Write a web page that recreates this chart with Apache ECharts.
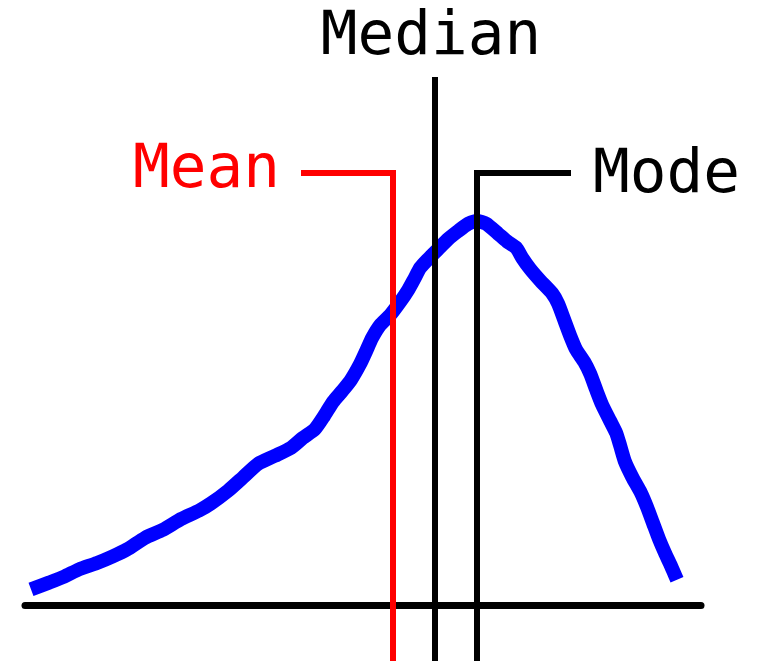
<!DOCTYPE html>
<html>
<head>
<meta charset="utf-8">
<title>Mean, Median, Mode</title>
<script src="https://cdn.jsdelivr.net/npm/echarts@6.0.0/dist/echarts.min.js"></script>
<style>
html, body { margin: 0; padding: 0; background: #fff; }
#chart { width: 775px; height: 661px; }
</style>
</head>
<body>
<div id="chart"></div>
<script type="text/javascript">
// skewed distribution curve
var curveX = [1.5, 6, 9.8, 13.5, 18, 21.8, 25.5, 30, 34.5, 39, 43.5, 46.5, 50.8, 54.5, 58.3, 62.5, 66.5, 69.5,
    72.5, 74.8, 77, 79.3, 81.5, 83.8, 85.3, 86.8, 88.8, 91.3, 93.8, 95.8, 97.3, 98.8, 100.8, 103.3, 105.8,
    108.3, 110.8, 113, 115.3, 118.3, 120.5, 122.8, 124.3, 126.3, 128.8, 131.8, 133.3, 134.8, 136.3, 137.8,
    139.8, 141.3, 142.8, 144.3, 146.3, 147.8, 148.8, 150, 151.8, 154, 155.5, 157, 158.5, 160, 161.5, 163];
var curveY = [3.9, 5.6, 7.1, 8.9, 10.5, 12.1, 13.9, 16.8, 18.8, 21.5, 23.6, 25.4, 28.6, 31.9, 35.3, 37.3, 39.3, 41.8,
    44, 47.3, 50.8, 53.5, 56.3, 60.3, 63.5, 66.8, 70, 72.5, 75.8, 78.8, 81.5, 84.3, 86.5, 89, 91.5,
    93.5, 95.3, 96, 95.3, 92.8, 90.9, 89.3, 86.8, 84, 81.1, 77.9, 75.3, 71.3, 67.3, 63.8,
    60.8, 57.8, 53.8, 50, 46, 43, 39.8, 35.8, 32, 28, 24.5, 20.5, 16.5, 13, 9.8, 6.3];

// mean / median / mode markers
var markerNames = ['Mean', 'Median', 'Mode'];
var markerX = [92, 102.5, 113];
var markerTop = [108, 132, 108];
var leaderEnd = [69, null, 136.5];
var floorY = -14;

var markerColors = ['#ff0000', '#000000', '#000000'];
var markerLabels = [
    {position: 'left', distance: 21, offset: [0, -2]},
    {position: 'top', distance: 8, offset: [-4, 0]},
    {position: 'right', distance: 22, offset: [0, 3]}
];

var curveData = curveX.map(function (x, i) { return [x, curveY[i]]; });

var series = [{
    name: 'distribution',
    type: 'line',
    data: curveData,
    showSymbol: false,
    smooth: 0.2,
    silent: true,
    lineStyle: {color: '#0000ff', width: 14, join: 'round'},
    z: 2
}];

markerNames.forEach(function (name, i) {
    var pts = [];
    if (leaderEnd[i] != null) pts.push([leaderEnd[i], markerTop[i]]);
    pts.push([markerX[i], markerTop[i]]);
    pts.push([markerX[i], floorY]);
    var lab = markerLabels[i];
    pts[0] = {
        value: pts[0],
        label: {
            show: true,
            formatter: name,
            position: lab.position,
            distance: lab.distance,
            offset: lab.offset,
            color: markerColors[i],
            fontFamily: 'DejaVu Sans Mono',
            fontSize: 61,
            fontWeight: 'normal'
        }
    };
    series.push({
        name: name,
        type: 'line',
        data: pts,
        symbol: 'circle',
        symbolSize: 0,
        showSymbol: true,
        clip: false,
        silent: true,
        lineStyle: {color: markerColors[i], width: 6, join: 'miter'},
        z: 3
    });
});

var chart = echarts.init(document.getElementById('chart'));
chart.setOption({
    animation: false,
    backgroundColor: '#ffffff',
    grid: {left: 25, right: 74, top: 5, bottom: 0},
    xAxis: {
        type: 'value',
        min: 0,
        max: 169,
        axisLine: {show: true, onZero: true, lineStyle: {color: '#000000', width: 7}},
        axisTick: {show: false},
        axisLabel: {show: false},
        splitLine: {show: false}
    },
    yAxis: {
        type: 'value',
        min: floorY,
        max: 150,
        show: false,
        splitLine: {show: false}
    },
    series: series
});
</script>
</body>
</html>
